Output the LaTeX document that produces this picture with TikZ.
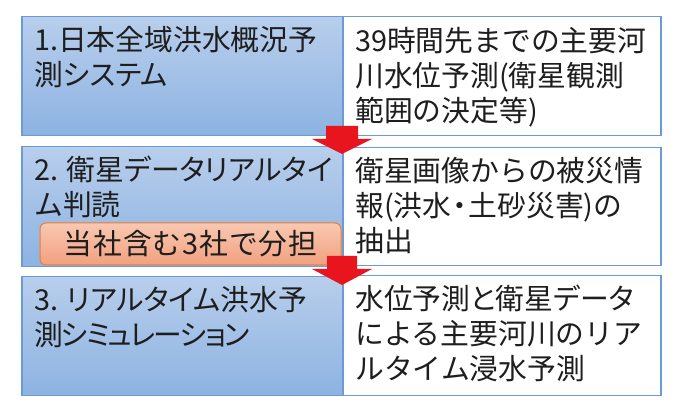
\documentclass[tikz,border=0pt]{standalone}
\usepackage{fontspec}
\setmainfont{Noto Sans CJK JP}
\newfontfamily\propfont[RawFeature=+palt]{Noto Sans CJK JP}
\definecolor{bluetop}{HTML}{B8CEEC}
\definecolor{bluebot}{HTML}{8DB3E2}
\definecolor{blueline}{HTML}{6A9BD6}
\definecolor{orangetop}{HTML}{F9C8B2}
\definecolor{orangebot}{HTML}{F2A07E}
\definecolor{orangeline}{HTML}{ED7D31}
\definecolor{arrowred}{HTML}{E8141E}
\definecolor{txt}{HTML}{1E1E1E}
\tikzset{
  leftbox/.style={draw=blueline, line width=1.5pt, top color=bluetop, bottom color=bluebot, minimum width=321pt, anchor=north west, inner sep=0pt},
  rightbox/.style={draw=blueline, line width=1.5pt, fill=white, minimum width=318pt, anchor=north west, inner sep=0pt},
  boxtext/.style={anchor=north west, align=left, inner sep=0pt, text=txt, font=\fontsize{28.8pt}{35pt}\selectfont},
  tagbox/.style={draw=orangeline, line width=1pt, top color=orangetop, bottom color=orangebot, rounded corners=6pt, minimum width=301pt, minimum height=42pt, inner sep=0pt, text=txt, font=\fontsize{28.8pt}{35pt}\selectfont},
  downarrow/.style={fill=arrowred}
}
\begin{document}
\begin{tikzpicture}[x=1pt,y=1pt]
\useasboundingbox (0,0) rectangle (680,412);
% left boxes
\node[leftbox, minimum height=119pt] (l1) at (21,396) {};
\node[leftbox, minimum height=120pt] (l2) at (21,266) {};
\node[leftbox, minimum height=119pt] (l3) at (21,136) {};
% right boxes
\node[rightbox, minimum height=119pt] (r1) at (342,396) {};
\node[rightbox, minimum height=118pt] (r2) at (342,265) {};
\node[rightbox, minimum height=120pt] (r3) at (342,137) {};
% texts
\node[boxtext] (t1) at ([xshift=13pt,yshift=-10pt]l1.north west) {1.日本全域洪水概況予\\{\propfont 測システム}};
\node[boxtext] (t2) at ([xshift=13pt,yshift=-10pt]l2.north west) {{\propfont 2. 衛星データリアルタイ}\\ム判読};
\node[boxtext] (t3) at ([xshift=13pt,yshift=-10pt]l3.north west) {{\propfont 3. リアルタイム}洪水予\\{\propfont\addfontfeature{LetterSpace=-6}測シミュレーション}};
\node[boxtext] (u1) at ([xshift=13pt,yshift=-11pt]r1.north west) {39時間先までの主要河\\川水位予測(衛星観測\\範囲の決定等)};
\node[boxtext] (u2) at ([xshift=13pt,yshift=-10pt]r2.north west) {衛星画像からの被災情\\報(洪水\makebox[0.6em]{・}土砂災害)の\\抽出};
\node[boxtext] (u3) at ([xshift=13pt,yshift=-10pt]r3.north west) {\propfont 水位予測と衛星データ\\による主要河川のリア\\ルタイム浸水予測};
% orange tag
\node[tagbox] (tag) at (190.5,168) {\addfontfeature{LetterSpace=3}当社含む3社で分担};
% arrows
\coordinate (a1) at (342,258);
\coordinate (a2) at (342,127);
\fill[downarrow] ([xshift=-16pt,yshift=28pt]a1) -- ([xshift=16pt,yshift=28pt]a1) -- ([xshift=16pt,yshift=15pt]a1) -- ([xshift=30pt,yshift=15pt]a1) -- (a1) -- ([xshift=-30pt,yshift=15pt]a1) -- ([xshift=-16pt,yshift=15pt]a1) -- cycle;
\fill[downarrow] ([xshift=-15pt,yshift=29pt]a2) -- ([xshift=15pt,yshift=29pt]a2) -- ([xshift=15pt,yshift=16pt]a2) -- ([xshift=30pt,yshift=16pt]a2) -- (a2) -- ([xshift=-30pt,yshift=16pt]a2) -- ([xshift=-15pt,yshift=16pt]a2) -- cycle;
\end{tikzpicture}
\end{document}
